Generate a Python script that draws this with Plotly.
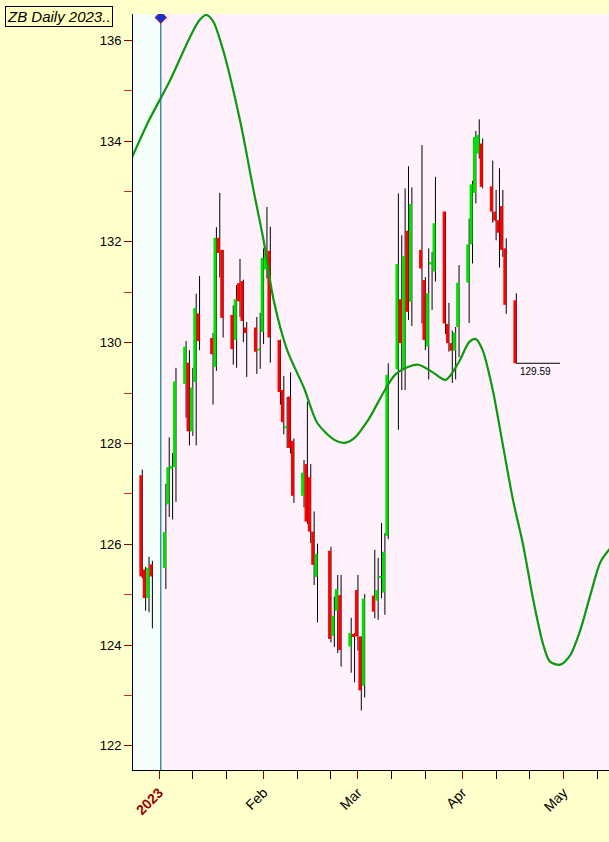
import pandas as pd
import plotly.graph_objects as go

# daily bars
dates = ["2022-12-27", "2022-12-28", "2022-12-29", "2022-12-30",
         "2023-01-03", "2023-01-04", "2023-01-05", "2023-01-06", "2023-01-09", "2023-01-10",
         "2023-01-11", "2023-01-12", "2023-01-13", "2023-01-17", "2023-01-18", "2023-01-19",
         "2023-01-20", "2023-01-23", "2023-01-24", "2023-01-25", "2023-01-26", "2023-01-27",
         "2023-01-30", "2023-01-31", "2023-02-01", "2023-02-02", "2023-02-03", "2023-02-06",
         "2023-02-07", "2023-02-08", "2023-02-09", "2023-02-10", "2023-02-13", "2023-02-14",
         "2023-02-15", "2023-02-16", "2023-02-17", "2023-02-21", "2023-02-22", "2023-02-23",
         "2023-02-24", "2023-02-27", "2023-02-28", "2023-03-01", "2023-03-02", "2023-03-03",
         "2023-03-06", "2023-03-07", "2023-03-08", "2023-03-09", "2023-03-10", "2023-03-13",
         "2023-03-14", "2023-03-15", "2023-03-16", "2023-03-17", "2023-03-20", "2023-03-21",
         "2023-03-22", "2023-03-23", "2023-03-24", "2023-03-27", "2023-03-28", "2023-03-29",
         "2023-03-30", "2023-03-31", "2023-04-03", "2023-04-04", "2023-04-05", "2023-04-06",
         "2023-04-07", "2023-04-10", "2023-04-11", "2023-04-12", "2023-04-13", "2023-04-14",
         "2023-04-17"]
opens = [127.37, 125.50, 124.93, 125.60, 125.53, 126.79, 127.50, 127.53, 129.18, 129.60,
         128.24, 129.22, 130.58, 130.09, 129.52, 132.08, 131.84, 130.55, 130.05, 131.18,
         131.22, 130.30, 130.30, 129.88, 130.21, 131.45, 131.82, 130.05, 129.06, 128.34,
         128.93, 128.05, 126.96, 127.59, 127.33, 126.25, 125.35, 125.87, 124.18, 124.68,
         124.99, 123.97, 124.22, 125.09, 124.17, 123.19, 124.98, 124.88, 125.33, 125.04,
         126.16, 129.47, 130.86, 129.46, 132.22, 130.81, 131.84, 131.24, 129.92, 131.55,
         131.41, 132.60, 130.37, 129.99, 129.84, 130.31, 131.19, 131.95, 132.97, 133.75,
         133.95, 133.10, 132.60, 132.43, 132.71, 131.87, 130.84]
highs = [127.48, 125.55, 125.75, 125.67, 127.20, 128.12, 127.81, 129.50, 130.03, 129.85,
         129.50, 130.97, 131.32, 130.19, 132.29, 132.97, 131.84, 130.74, 131.14, 131.66,
         131.25, 130.41, 130.51, 130.59, 131.87, 132.69, 132.30, 130.06, 129.34, 128.92,
         129.41, 128.10, 127.67, 128.83, 127.59, 126.65, 126.01, 125.95, 124.96, 125.39,
         125.39, 124.54, 124.24, 125.39, 124.17, 125.01, 125.89, 125.73, 126.42, 126.22,
         129.59, 132.96, 132.13, 133.06, 133.50, 133.08, 133.92, 131.30, 131.87, 131.80,
         133.29, 132.60, 130.79, 130.24, 130.31, 131.54, 132.46, 133.21, 134.20, 134.43,
         134.05, 133.61, 133.03, 133.46, 133.03, 132.07, 130.98]
lows = [125.32, 124.68, 124.65, 124.33, 125.11, 126.54, 126.49, 126.84, 128.51, 127.96,
        128.15, 127.96, 129.85, 128.77, 129.44, 131.29, 130.10, 129.56, 129.50, 130.51,
        130.01, 129.32, 129.38, 129.48, 129.97, 131.27, 129.60, 128.77, 128.18, 127.91,
        127.80, 126.82, 126.73, 126.40, 126.02, 125.19, 124.45, 124.05, 123.96, 123.84,
        123.57, 123.45, 123.26, 123.89, 122.70, 122.96, 124.53, 124.50, 124.93, 124.60,
        126.10, 128.27, 129.06, 129.06, 130.45, 130.33, 130.38, 129.85, 129.27, 130.65,
        131.21, 130.17, 129.82, 129.20, 129.27, 129.71, 130.39, 131.57, 132.76, 133.65,
        133.06, 132.38, 132.03, 131.49, 131.70, 130.57, 129.59]
closes = [125.36, 124.93, 125.53, 125.36, 126.24, 127.53, 127.55, 129.23, 129.92, 128.24,
          129.11, 130.69, 130.03, 129.77, 132.08, 131.78, 130.49, 129.87, 130.86, 130.82,
          130.43, 130.19, 129.82, 129.91, 131.68, 131.79, 130.10, 129.02, 128.42, 128.37,
          127.91, 126.96, 127.42, 126.45, 126.25, 125.59, 125.81, 124.12, 124.58, 125.11,
          123.90, 124.24, 124.16, 124.17, 123.10, 124.92, 124.66, 125.09, 125.37, 125.85,
          129.36, 131.56, 129.99, 131.72, 130.61, 132.75, 131.47, 130.05, 130.98, 131.60,
          132.37, 130.38, 129.99, 129.84, 130.20, 131.19, 131.95, 133.14, 134.08, 134.12,
          133.09, 132.60, 132.42, 132.18, 131.84, 130.75, 129.59]

# smooth cycle line
cycle_dates = ["2022-12-24", "2022-12-29", "2023-01-04", "2023-01-10", "2023-01-13", "2023-01-15",
               "2023-01-17", "2023-01-20", "2023-01-25", "2023-01-29", "2023-02-01", "2023-02-04",
               "2023-02-08", "2023-02-13", "2023-02-17", "2023-02-22", "2023-02-25", "2023-02-28",
               "2023-03-04", "2023-03-09", "2023-03-12", "2023-03-16", "2023-03-19", "2023-03-23",
               "2023-03-27", "2023-03-31", "2023-04-03", "2023-04-05", "2023-04-07", "2023-04-10",
               "2023-04-13", "2023-04-16", "2023-04-19", "2023-04-22", "2023-04-25", "2023-04-27",
               "2023-04-30", "2023-05-03", "2023-05-06", "2023-05-09", "2023-05-12", "2023-05-15"]
cycle_vals = [133.68, 134.41, 135.17, 136.04, 136.40, 136.50, 136.38, 135.80, 134.41, 133.03,
              132.03, 130.84, 129.85, 129.10, 128.40, 128.07, 128.01, 128.11, 128.46, 129.06,
              129.36, 129.52, 129.56, 129.42, 129.26, 129.62, 130.01, 130.07, 129.85, 129.06,
              127.97, 126.88, 125.99, 124.90, 124.00, 123.67, 123.61, 123.80, 124.30, 125.00,
              125.65, 125.93]

last_price = 129.59
tick_dates = ["2023-01-01", "2023-02-01", "2023-03-01", "2023-04-01", "2023-05-01"]
tick_text = ["<b><span style='color:#990000'>2023</span></b>", "Feb", "Mar", "Apr", "May"]
minor_dates = ["2023-01-11", "2023-01-21", "2023-02-11", "2023-02-21", "2023-03-11",
               "2023-03-21", "2023-04-11", "2023-04-21", "2023-05-11"]

df = pd.DataFrame({"date": pd.to_datetime(dates), "o": opens, "h": highs, "l": lows, "c": closes})
up = df["c"] >= df["o"]


def segs(sub, top, bot, shift=pd.Timedelta(0)):
    xs, ys = [], []
    for d, a, b in zip(sub["date"], sub[top], sub[bot]):
        if abs(a - b) < 0.04:
            b = a - 0.04
        xs += [d + shift, d + shift, None]
        ys += [a, b, None]
    return xs, ys


fig = go.Figure()
fig.add_vrect(x0="2022-12-20", x1="2023-01-01 12:00", fillcolor="#f4fffb", line_width=0, layer="below")
wx, wy = segs(df, "h", "l")
fig.add_trace(go.Scatter(x=wx, y=wy, mode="lines", line=dict(color="black", width=1), hoverinfo="skip"))
for mask, col in [(up, "#00e000"), (~up, "#ff0000")]:
    bx, by = segs(df[mask], "o", "c", pd.Timedelta(hours=-10))
    fig.add_trace(go.Scatter(x=bx, y=by, mode="lines", line=dict(color=col, width=3), hoverinfo="skip"))
fig.add_trace(go.Scatter(x=pd.to_datetime(cycle_dates), y=cycle_vals, mode="lines",
                         line=dict(color="#0b9a0b", width=2.2, shape="spline", smoothing=0.8)))
fig.add_trace(go.Scatter(x=["2023-01-01 12:00", "2023-01-01 12:00"], y=[121, 136.45], mode="lines",
                         line=dict(color="#107a8a", width=1.2)))
fig.add_trace(go.Scatter(x=["2023-01-01 12:00"], y=[136.45], mode="markers",
                         marker=dict(symbol="diamond", size=9, color="#1030d0", line=dict(color="#d02020", width=1))))
fig.add_trace(go.Scatter(x=["2023-04-17", "2023-04-30"], y=[last_price, last_price], mode="lines",
                         line=dict(color="black", width=1)))
fig.add_annotation(x="2023-04-17 12:00", y=last_price, text=f"{last_price:.2f}", showarrow=False,
                   xanchor="left", yanchor="top", font=dict(size=10, color="black"), yshift=-1)

fig.add_annotation(xref="paper", yref="paper", x=-0.269, y=0.983, text="<i>ZB Daily 2023..</i>", showarrow=False,
                   xanchor="left", yanchor="bottom", bgcolor="#ffffc0", bordercolor="black", borderwidth=1,
                   font=dict(family="Liberation Sans", size=15, color="black"), borderpad=1)

fig.update_layout(
    width=609, height=842, showlegend=False,
    paper_bgcolor="#ffffcc", plot_bgcolor="#fff2fc",
    margin=dict(l=133, r=0, t=14, b=72),
    font=dict(family="Liberation Sans", size=13, color="black"),
)
fig.update_xaxes(type="date", range=["2022-12-24 06:00", "2023-05-14 12:00"], showgrid=False,
                 tickvals=tick_dates, ticktext=tick_text, tickangle=-45, ticks="outside", ticklen=8,
                 tickcolor="#990000", showline=True, linecolor="black", linewidth=1,
                 tickfont=dict(size=14), zeroline=False,
                 minor=dict(tickvals=minor_dates, ticks="outside", ticklen=8, tickcolor="black"))
fig.update_yaxes(range=[121.52, 136.52], showgrid=False, tickvals=[122, 124, 126, 128, 130, 132, 134, 136],
                 ticks="outside", ticklen=8, tickcolor="#990000", showline=True, linecolor="black",
                 zeroline=False, tickfont=dict(size=13),
                 minor=dict(tickvals=[123, 125, 127, 129, 131, 133, 135], ticks="outside", ticklen=8,
                            tickcolor="#cc3030"))

fig.write_html("out.html", config={"displayModeBar": False},
               post_script="document.body.style.margin='0';document.body.style.overflow='hidden';")
